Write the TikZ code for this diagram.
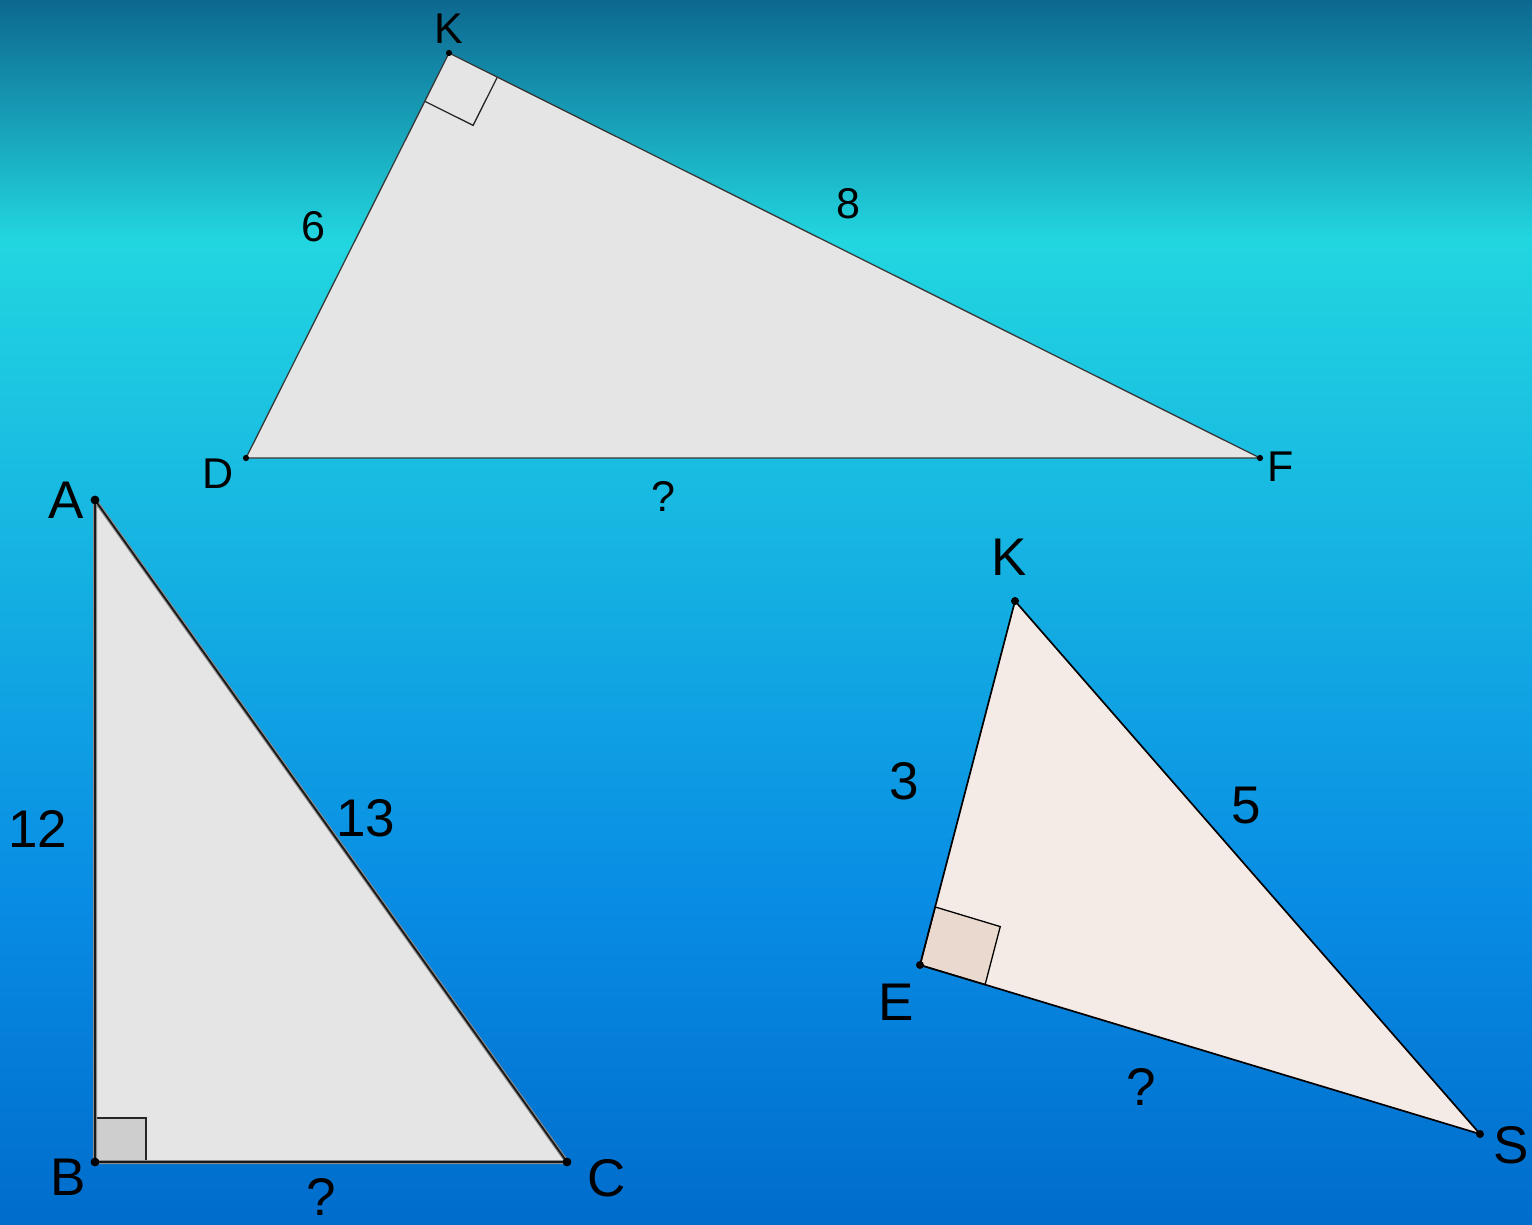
\documentclass[tikz,border=0pt]{standalone}
\usepackage{fontspec}
\setmainfont{Liberation Sans}
\usetikzlibrary{calc}
\definecolor{bgA}{RGB}{13,104,144}
\definecolor{bgB}{RGB}{34,214,224}
\definecolor{bgC}{RGB}{8,140,228}
\definecolor{bgD}{RGB}{0,108,204}
\definecolor{trifill}{RGB}{229,229,229}
\definecolor{sqfill}{RGB}{206,206,206}
\definecolor{pinkfill}{RGB}{245,235,230}
\definecolor{pinksq}{RGB}{234,217,206}
\tikzset{
  lblsmall/.style={inner sep=0pt, anchor=center, font=\fontsize{43}{48}\selectfont},
  lblbig/.style={inner sep=0pt, anchor=center, font=\fontsize{53}{60}\selectfont},
  thinedge/.style={draw=black!78, line width=1.3pt, line join=round},
  thickedgeback/.style={draw=black!45, line width=4pt, line join=round},
  thickedge/.style={draw=black!90, line width=1.8pt, line join=round},
  pinkedge/.style={draw=black, line width=1.7pt, line join=round},
  markline/.style={draw=black!85, line width=1.3pt},
}
\begin{document}
\begin{tikzpicture}[x=1pt,y=-1pt]
\useasboundingbox (0,0) rectangle (1532,1224);
% background
\shade[top color=bgA, bottom color=bgB] (0,0) rectangle (1532,241);
\shade[top color=bgB, bottom color=bgC] (0,240) rectangle (1532,901);
\shade[top color=bgC, bottom color=bgD] (0,900) rectangle (1532,1224);

% ---------- top triangle D K F ----------
\coordinate (K1) at (449,53);
\coordinate (D1) at (246,458);
\coordinate (F1) at (1260,458);
\fill[trifill] (K1) -- (D1) -- (F1) -- cycle;
\coordinate (m1a) at ($(K1)!54pt!(F1)$);
\coordinate (m1b) at ($(K1)!54pt!(D1)$);
\coordinate (m1c) at ($(m1a)+(m1b)-(K1)$);
\draw[markline] (m1a) -- (m1c) -- (m1b);
\draw[thinedge] (K1) -- (D1) -- (F1) -- cycle;
\fill (K1) circle (3.1);
\fill (D1) circle (3.1);
\fill (F1) circle (3.1);
\node[lblsmall] (tK1) at (449,29) {K};
\node[lblsmall] (tD1) at (218,474) {D};
\node[lblsmall] (tF1) at (1281,467) {F};
\node[lblsmall] (t6) at (313,227) {6};
\node[lblsmall] (t8) at (848,204) {8};
\node[lblsmall] (tq1) at (663,496) {?};

% ---------- bottom-left triangle A B C ----------
\coordinate (A) at (95,500);
\coordinate (B) at (95,1162);
\coordinate (C) at (567,1162);
\fill[trifill] (A) -- (B) -- (C) -- cycle;
\filldraw[fill=sqfill, draw=black!85, line width=1.3pt] (B) rectangle ($(B)+(51,-44)$);
\draw[thickedgeback] (A) -- (B) -- (C) -- cycle;
\draw[thickedge] (A) -- (B) -- (C) -- cycle;
\fill (A) circle (4.4);
\fill (B) circle (4.4);
\fill (C) circle (4.4);
\node[lblbig] (tA) at (66,500) {A};
\node[lblbig] (tB) at (68,1177) {B};
\node[lblbig] (tC) at (607,1178) {C};
\node[lblbig] (t12) at (38,829) {12};
\node[lblbig] (t13) at (366,818) {13};
\node[lblbig] (tq2) at (321,1197) {?};

% ---------- right triangle K E S ----------
\coordinate (K2) at (1015,601);
\coordinate (E) at (920,965);
\coordinate (S) at (1480,1134);
\fill[pinkfill] (K2) -- (E) -- (S) -- cycle;
\coordinate (m2a) at ($(E)!60pt!(K2)$);
\coordinate (m2b) at ($(E)!68pt!(S)$);
\coordinate (m2c) at ($(m2a)+(m2b)-(E)$);
\filldraw[fill=pinksq, draw=black, line width=1.3pt] (E) -- (m2a) -- (m2c) -- (m2b) -- cycle;
\draw[pinkedge] (K2) -- (E) -- (S) -- cycle;
\fill (K2) circle (4);
\fill (E) circle (4);
\fill (S) circle (4);
\node[lblbig] (tK2) at (1009,557) {K};
\node[lblbig] (tE) at (896,1002) {E};
\node[lblbig] (tS) at (1511,1145) {S};
\node[lblbig] (t3) at (904,781) {3};
\node[lblbig] (t5) at (1246,806) {5};
\node[lblbig] (tq3) at (1141,1087) {?};
\end{tikzpicture}
\end{document}
